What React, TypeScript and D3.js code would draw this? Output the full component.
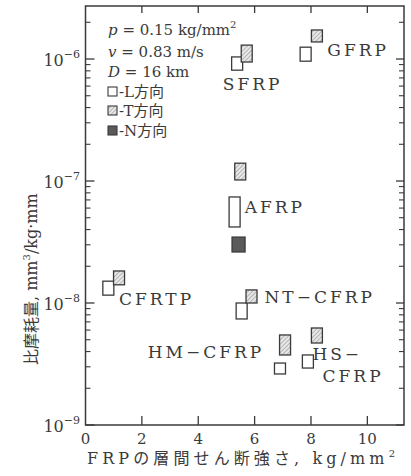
import React from "react";
import * as d3 from "d3";

// ---- data ----
const xTickValues = [0, 2, 4, 6, 8, 10];
const yDecadeExps = [-9, -8, -7, -6];

const markerGroup = ["SFRP", "SFRP", "GFRP", "GFRP", "AFRP", "AFRP", "AFRP", "CFRTP", "CFRTP", "NT-CFRP", "NT-CFRP", "HM-CFRP", "HM-CFRP", "HS-CFRP", "HS-CFRP"];
const markerDir = ["L", "T", "L", "T", "T", "L", "N", "L", "T", "L", "T", "T", "L", "T", "L"];
const markerX = [5.38, 5.72, 7.81, 8.21, 5.49, 5.29, 5.43, 0.81, 1.19, 5.54, 5.89, 7.08, 6.9, 8.21, 7.89];
const markerLo = [8.1e-7, 9.45e-7, 9.6e-7, 1.38e-6, 1.02e-7, 4.2e-8, 2.62e-8, 1.16e-8, 1.41e-8, 7.4e-9, 1.0e-8, 3.75e-9, 2.62e-9, 4.7e-9, 2.93e-9];
const markerHi = [1.04e-6, 1.3e-6, 1.25e-6, 1.73e-6, 1.4e-7, 7.4e-8, 3.47e-8, 1.51e-8, 1.83e-8, 1.0e-8, 1.28e-8, 5.47e-9, 3.22e-9, 6.24e-9, 3.75e-9];

const labelText = ["SFRP", "GFRP", "AFRP", "CFRTP", "NT\u2212CFRP", "HM\u2212CFRP", "HS\u2212", "CFRP"];
const labelX = [4.87, 8.58, 5.65, 1.19, 6.35, 2.21, 8.05, 8.41];
const labelY = [5.57e-7, 1.06e-6, 5.47e-8, 9.6e-9, 1.0e-8, 3.54e-9, 3.4e-9, 2.26e-9];

const legendDirs = ["L", "T", "N"];
const legendDirText = ["-L\u65b9\u5411", "-T\u65b9\u5411", "-N\u65b9\u5411"];

const xTitle = "FRP\u306e\u5c64\u9593\u305b\u3093\u65ad\u5f37\u3055, kg/mm";
const yTitle = "\u6bd4\u6469\u8017\u91cf, mm";

// ---- layout ----
const W = 411, H = 476;
const PL = 85.5, PR = 404, PT = 6, PB = 425;
const INK = "#3a3a3a";
const FONT = "'DejaVu Serif', 'Noto Sans CJK JP', serif";

const x = d3.scaleLinear().domain([0, 11.3]).range([PL, PR]);
const y = d3.scaleLog().domain([1e-9, 2.72e-6]).range([PB, PT]);

function fillFor(dir: string) {
  if (dir === "T") return "url(#hatch)";
  if (dir === "N") return "#5a5a5a";
  return "white";
}

export default function App() {
  const minorTicks: number[] = [];
  yDecadeExps.forEach((e) => {
    for (let k = 2; k <= 9; k++) {
      const v = k * Math.pow(10, e);
      if (v <= y.domain()[1]) minorTicks.push(v);
    }
  });
  const legendBase = [35, 57, 77, 97, 116, 136];

  return (
    <svg width={W} height={H} style={{ position: "absolute", left: 0, top: 0, background: "white" }} fontFamily={FONT}>
      <defs>
        <pattern id="hatch" width="3" height="3" patternUnits="userSpaceOnUse" patternTransform="rotate(45)">
          <rect width="3" height="3" fill="#e8e8e8" />
          <line x1="0" y1="0" x2="0" y2="3" stroke="#888" strokeWidth="1.1" />
        </pattern>
      </defs>

      {/* frame */}
      <rect x={PL} y={PT} width={PR - PL} height={PB - PT} fill="none" stroke={INK} strokeWidth={1.5} />

      {/* y major ticks */}
      {yDecadeExps.map((e) => {
        const yy = y(Math.pow(10, e));
        return (
          <g key={"yt" + e}>
            <line x1={PL} x2={PL + 9} y1={yy} y2={yy} stroke={INK} strokeWidth={1.3} />
            <line x1={PR} x2={PR - 8} y1={yy} y2={yy} stroke={INK} strokeWidth={1.3} />
            <text x={80} y={yy + 7} textAnchor="end" fontSize={16} fill={INK}>
              10<tspan dy={-8} fontSize={11}>{"\u2212" + Math.abs(e)}</tspan>
            </text>
          </g>
        );
      })}
      {minorTicks.map((v, i) => (
        <g key={"ym" + i}>
          <line x1={PL} x2={PL + 5} y1={y(v)} y2={y(v)} stroke={INK} strokeWidth={1.1} />
          <line x1={PR} x2={PR - 5} y1={y(v)} y2={y(v)} stroke={INK} strokeWidth={1.1} />
        </g>
      ))}

      {/* x ticks */}
      {xTickValues.map((t) => (
        <g key={"xt" + t}>
          {t > 0 && <line x1={x(t)} x2={x(t)} y1={PB} y2={PB - 9} stroke={INK} strokeWidth={1.3} />}
          {t > 0 && <line x1={x(t)} x2={x(t)} y1={PT} y2={PT + 7} stroke={INK} strokeWidth={1.3} />}
          <text x={x(t)} y={444} textAnchor="middle" fontSize={15} fill={INK}>{t}</text>
        </g>
      ))}

      {/* markers */}
      {markerX.map((mx, i) => {
        const w = markerDir[i] === "N" ? 13 : 11;
        const y1 = y(markerHi[i]);
        const y2 = y(markerLo[i]);
        return (
          <rect key={"m" + i} data-group={markerGroup[i]} x={x(mx) - w / 2} y={y1} width={w} height={y2 - y1}
            fill={fillFor(markerDir[i])} stroke={INK} strokeWidth={1.3} />
        );
      })}

      {/* labels */}
      {labelText.map((t, i) => (
        <text key={"l" + i} x={x(labelX[i])} y={y(labelY[i])} fontSize={17} letterSpacing={3} fill={INK}>{t}</text>
      ))}

      {/* legend */}
      <g fontSize={15} fill={INK}>
        <text x={108} y={legendBase[0]}><tspan fontStyle="italic">p</tspan>{" = 0.15 kg/mm"}<tspan dy={-7} fontSize={10}>2</tspan></text>
        <text x={108} y={legendBase[1]}><tspan fontStyle="italic">v</tspan>{" = 0.83 m/s"}</text>
        <text x={108} y={legendBase[2]}><tspan fontStyle="italic">D</tspan>{" = 16 km"}</text>
        {legendDirs.map((d, i) => (
          <g key={"lg" + d}>
            <rect x={108} y={legendBase[3 + i] - 10} width={9} height={9} fill={fillFor(d)} stroke={INK} strokeWidth={1.1} />
            <text x={119} y={legendBase[3 + i]}>{legendDirText[i]}</text>
          </g>
        ))}
      </g>

      {/* axis titles */}
      <text x={87} y={464} fontSize={16} fill={INK} textLength={308} lengthAdjust="spacing">
        {xTitle}<tspan dy={-7} fontSize={10}>2</tspan>
      </text>
      <text transform={`translate(37,${365}) rotate(-90)`} x={0} y={0} fontSize={16} fill={INK}>
        {yTitle}<tspan dy={-7} fontSize={10}>3</tspan><tspan dy={7}>{"/kg\u00b7mm"}</tspan>
      </text>
    </svg>
  );
}
